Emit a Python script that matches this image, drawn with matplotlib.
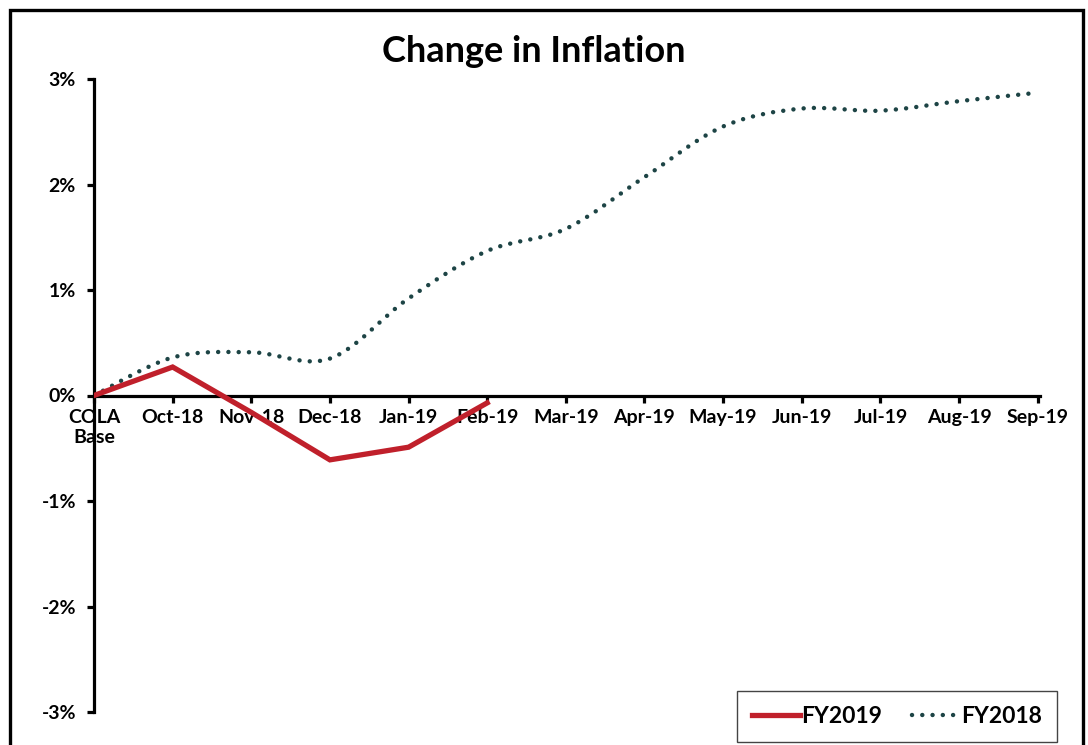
import matplotlib
matplotlib.use("Agg")
import matplotlib.pyplot as plt
import numpy as np
from matplotlib.path import Path
from matplotlib.patches import PathPatch, Rectangle
from matplotlib.lines import Line2D
from matplotlib.ticker import FuncFormatter

categories = ["COLA\nBase", "Oct-18", "Nov-18", "Dec-18", "Jan-19", "Feb-19", "Mar-19",
              "Apr-19", "May-19", "Jun-19", "Jul-19", "Aug-19", "Sep-19"]
fy2019 = [0.0, 0.27, -0.16, -0.61, -0.49, -0.07]
fy2018 = [0.0, 0.36, 0.41, 0.35, 0.92, 1.37, 1.58, 2.07, 2.55, 2.72, 2.70, 2.79, 2.87]
yticks = [-3, -2, -1, 0, 1, 2, 3]

RED = "#c0202b"
TEAL = "#1d4445"

plt.rcParams["font.family"] = ["Lato", "DejaVu Sans"]
plt.rcParams["font.weight"] = "bold"

fig = plt.figure(figsize=(10.88, 7.45), dpi=100)
W, H = 1088, 745
ax = fig.add_axes([94 / W, 1 - 712 / H, (1040 - 94) / W, (712 - 79) / H])

x18 = np.arange(len(fy2018))
x19 = np.arange(len(fy2019))

DOT = (0, (0.01, 2.3))

# smoothed FY2018 line (Excel-style smoothing rendered as a Bezier path)
pts = np.column_stack([x18, fy2018]).astype(float)
verts = [pts[0]]
codes = [Path.MOVETO]
n = len(pts)
for i in range(n - 1):
    p0 = pts[i - 1] if i > 0 else pts[i]
    p1 = pts[i]
    p2 = pts[i + 1]
    p3 = pts[i + 2] if i + 2 < n else pts[i + 1]
    c1 = p1 + (p2 - p0) / 6.0
    c2 = p2 - (p3 - p1) / 6.0
    verts += [c1, c2, p2]
    codes += [Path.CURVE4] * 3
patch = PathPatch(Path(verts, codes), fill=False, edgecolor=TEAL, lw=3.2,
                  linestyle=DOT, capstyle="round", zorder=3)
ax.add_patch(patch)

ax.plot(x19, fy2019, color=RED, lw=3.8, solid_joinstyle="miter", zorder=4)

ax.set_xlim(0, 12.03)
ax.set_ylim(-3, 3)
ax.set_yticks(yticks)
ax.yaxis.set_major_formatter(FuncFormatter(lambda v, p: f"{int(round(v))}%"))
ax.set_xticks(x18)
ax.set_xticklabels(categories)

for s in ["top", "right"]:
    ax.spines[s].set_visible(False)
ax.spines["bottom"].set_position(("data", 0))
ax.spines["bottom"].set_linewidth(2.3)
ax.spines["left"].set_linewidth(2.3)
ax.spines["left"].set_zorder(2)
ax.tick_params(axis="y", direction="out", length=5, width=2.3, pad=8, labelsize=14)
ax.tick_params(axis="x", direction="out", length=5, width=2.3, pad=5, labelsize=14)
for t in ax.get_xticklabels() + ax.get_yticklabels():
    t.set_fontweight("bold")

fig.text(534 / W, 1 - 52 / H, "Change in Inflation", ha="center", va="center",
         fontsize=26, fontweight="bold")

handles = [Line2D([], [], color=RED, lw=3.8),
           Line2D([], [], color=TEAL, lw=3.2, linestyle=DOT,
                  dash_capstyle="round")]
leg = fig.legend(handles, ["FY2019", "FY2018"], loc="lower right",
                 bbox_to_anchor=(1057 / W, 1 - 742 / H), ncol=2, frameon=True,
                 fancybox=False, framealpha=1, edgecolor="#444444",
                 prop={"size": 16.5, "weight": "bold"}, handlelength=2.1,
                 handletextpad=0.05, columnspacing=1.3, borderpad=0.65,
                 borderaxespad=0)
leg.get_frame().set_linewidth(1.0)

fig.add_artist(Rectangle((10 / W, -0.05), (1083 - 10) / W, 1.05 - 10 / H,
                         transform=fig.transFigure, fill=False, edgecolor="black",
                         lw=2.4, clip_on=False))

fig.savefig("out.png", dpi=100)
